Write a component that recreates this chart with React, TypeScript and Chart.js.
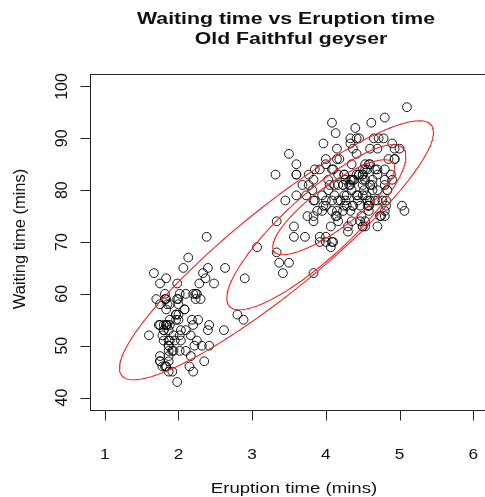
import { useEffect, useRef } from "react";
import { Chart, registerables } from "chart.js";

Chart.register(...registerables);

// Old Faithful eruptions: duration (mins) and waiting time to next eruption (mins)
const eruptions = [
  3.6, 1.8, 3.333, 2.283, 4.533, 2.883, 4.7, 3.6, 1.95, 4.35, 1.833, 3.917, 4.2, 1.75, 4.7, 2.167, 1.75, 4.8, 1.6, 4.25,
  1.8, 1.75, 3.45, 3.067, 4.533, 3.6, 1.967, 4.083, 3.85, 4.433, 4.3, 4.467, 3.367, 4.033, 3.833, 2.017, 1.867, 4.833, 1.833, 4.783,
  4.35, 1.883, 4.567, 1.75, 4.533, 3.317, 3.833, 2.1, 4.633, 2.0, 4.8, 4.716, 1.833, 4.833, 1.733, 4.883, 3.717, 1.667, 4.567, 4.317,
  2.233, 4.5, 1.75, 4.8, 1.817, 4.4, 4.167, 4.7, 2.067, 4.7, 4.033, 1.967, 4.5, 4.0, 1.983, 5.067, 2.017, 4.567, 3.883, 3.6,
  4.133, 4.333, 4.1, 2.633, 4.067, 4.933, 3.95, 4.517, 2.167, 4.0, 2.2, 4.333, 1.867, 4.817, 1.833, 4.3, 4.667, 3.75, 1.867, 4.9,
  2.483, 4.367, 2.1, 4.5, 4.05, 1.867, 4.7, 1.783, 4.85, 3.683, 4.733, 2.3, 4.9, 4.417, 1.7, 4.633, 2.317, 4.6, 1.817, 4.417,
  2.617, 4.067, 4.25, 1.967, 4.6, 3.767, 1.917, 4.5, 2.267, 4.65, 1.867, 4.167, 2.8, 4.333, 1.833, 4.383, 1.883, 4.933, 2.033, 3.733,
  4.233, 2.233, 4.533, 4.817, 4.333, 1.983, 4.633, 2.017, 5.1, 1.8, 5.033, 4.0, 2.4, 4.6, 3.567, 4.0, 4.5, 4.083, 1.8, 3.967,
  2.2, 4.15, 2.0, 3.833, 3.5, 4.583, 2.367, 5.0, 1.933, 4.617, 1.917, 2.083, 4.583, 3.333, 4.167, 4.333, 4.5, 2.417, 4.0, 4.167,
  1.883, 4.583, 4.25, 3.767, 2.033, 4.433, 4.083, 1.833, 4.417, 2.183, 4.8, 1.833, 4.8, 4.1, 3.966, 4.233, 3.5, 4.366, 2.25, 4.667,
  2.1, 4.35, 4.133, 1.867, 4.6, 1.783, 4.367, 3.85, 1.933, 4.5, 2.383, 4.7, 1.867, 3.833, 3.417, 4.233, 2.4, 4.8, 2.0, 4.15,
  1.867, 4.267, 1.75, 4.483, 4.0, 4.117, 4.083, 4.267, 3.917, 4.55, 4.083, 2.417, 4.183, 2.217, 4.45, 1.883, 1.85, 4.283, 3.95, 2.333,
  4.15, 2.35, 4.933, 2.9, 4.583, 3.833, 2.083, 4.367, 2.133, 4.35, 2.2, 4.45, 3.567, 4.5, 4.15, 3.817, 3.917, 4.45, 2.0, 4.283,
  4.767, 4.533, 1.85, 4.25, 1.983, 2.25, 4.75, 4.117, 2.15, 4.417, 1.817, 4.467,
];
const waiting = [
  79, 54, 74, 62, 85, 55, 88, 85, 51, 85, 54, 84, 78, 47, 83, 52, 62, 84, 52, 79,
  51, 47, 78, 69, 74, 83, 55, 76, 78, 79, 73, 77, 66, 80, 74, 52, 48, 80, 59, 90,
  80, 58, 84, 58, 73, 83, 64, 53, 82, 59, 75, 90, 54, 80, 54, 83, 71, 64, 77, 81,
  59, 84, 48, 82, 60, 92, 78, 78, 65, 73, 82, 56, 79, 71, 62, 76, 60, 78, 76, 83,
  75, 82, 70, 65, 73, 88, 76, 80, 48, 86, 60, 90, 50, 78, 63, 72, 84, 75, 51, 82,
  62, 88, 49, 83, 81, 47, 84, 52, 86, 81, 75, 59, 89, 79, 59, 81, 50, 85, 59, 87,
  53, 69, 77, 56, 88, 81, 45, 82, 55, 90, 45, 83, 56, 89, 46, 82, 51, 86, 53, 79,
  81, 60, 82, 77, 76, 59, 80, 49, 96, 53, 77, 77, 65, 81, 71, 70, 81, 93, 53, 89,
  45, 86, 58, 78, 66, 76, 63, 88, 52, 93, 49, 57, 77, 68, 81, 81, 73, 50, 85, 74,
  55, 77, 83, 83, 51, 78, 84, 46, 83, 55, 81, 57, 76, 84, 77, 81, 87, 77, 51, 78,
  60, 82, 91, 53, 78, 46, 77, 84, 49, 83, 71, 80, 49, 75, 64, 76, 53, 94, 55, 76,
  50, 82, 54, 75, 78, 79, 78, 78, 70, 79, 70, 54, 86, 50, 90, 54, 54, 77, 79, 64,
  75, 47, 86, 63, 85, 82, 57, 82, 67, 74, 54, 83, 73, 73, 88, 80, 71, 83, 56, 79,
  78, 84, 58, 83, 43, 60, 75, 81, 46, 90, 46, 74,
];

const xTicks = [1, 2, 3, 4, 5, 6];
const yTicks = [40, 50, 60, 70, 80, 90, 100];
const titleLines = ["Waiting time vs Eruption time", "Old Faithful geyser"];
const xTitle = "Eruption time (mins)";
const yTitle = "Waiting time (mins)";

// Density contours, each outlined as an ellipse: centre and shape matrix
const contourCentreX = [3.33, 3.871, 4.108];
const contourCentreY = [68.4, 72.84, 76.7];
const contourVarX = [4.537, 1.476, 0.686];
const contourCov = [48.4, 16.6, 6.33];
const contourVarY = [623.5, 253.4, 83.9];

const FONT = '"Liberation Sans", Arial, Helvetica, sans-serif';
const TICK_LEN = 10;
const TEXT_STRETCH = 1.24;

function ellipsePoints(i: number, n = 240) {
  const l11 = Math.sqrt(contourVarX[i]);
  const l21 = contourCov[i] / l11;
  const l22 = Math.sqrt(contourVarY[i] - l21 * l21);
  const pts: { x: number; y: number }[] = [];
  for (let k = 0; k <= n; k++) {
    const t = (2 * Math.PI * k) / n;
    const a = Math.cos(t);
    const b = Math.sin(t);
    pts.push({ x: contourCentreX[i] + l11 * a, y: contourCentreY[i] + l21 * a + l22 * b });
  }
  return pts;
}

function drawText(
  ctx: CanvasRenderingContext2D,
  text: string,
  x: number,
  y: number,
  sx: number,
  rotate: boolean
) {
  ctx.save();
  ctx.translate(x, y);
  if (rotate) ctx.rotate(-Math.PI / 2);
  ctx.scale(sx, 1);
  ctx.fillText(text, 0, 0);
  ctx.restore();
}

const basePlotFrame = {
  id: "basePlotFrame",
  afterDraw(chart: any) {
    const { ctx, chartArea: a, scales } = chart;
    const xs = scales.x;
    const ys = scales.y;
    ctx.save();
    ctx.strokeStyle = "#222";
    ctx.lineWidth = 1;
    const l = Math.round(a.left) + 0.5;
    const t = Math.round(a.top) + 0.5;
    const r = Math.round(a.right) + 0.5;
    const b = Math.round(a.bottom) + 0.5;
    ctx.strokeRect(l, t, r - l, b - t);

    ctx.beginPath();
    for (const v of xTicks) {
      const px = Math.round(xs.getPixelForValue(v)) + 0.5;
      ctx.moveTo(px, b);
      ctx.lineTo(px, b + TICK_LEN);
    }
    for (const v of yTicks) {
      const py = Math.round(ys.getPixelForValue(v)) + 0.5;
      ctx.moveTo(l, py);
      ctx.lineTo(l - TICK_LEN, py);
    }
    ctx.stroke();

    ctx.fillStyle = "#111";
    ctx.textAlign = "center";
    ctx.textBaseline = "alphabetic";

    ctx.font = `15px ${FONT}`;
    for (const v of xTicks) {
      drawText(ctx, String(v), xs.getPixelForValue(v), 459, 1.15, false);
    }
    drawText(ctx, xTitle, 294, 492.5, TEXT_STRETCH, false);

    ctx.font = `16px ${FONT}`;
    for (const v of yTicks) {
      drawText(ctx, String(v), 66.5, ys.getPixelForValue(v), 1, true);
    }
    drawText(ctx, yTitle, 25, 239, 1.03, true);

    ctx.font = `bold 17px ${FONT}`;
    drawText(ctx, titleLines[0], 286, 23.5, 1.25, false);
    drawText(ctx, titleLines[1], 291, 43.5, 1.25, false);
    ctx.restore();
  },
};

export default function App() {
  const canvasRef = useRef<HTMLCanvasElement | null>(null);

  useEffect(() => {
    const canvas = canvasRef.current;
    if (!canvas) return;
    const points = eruptions.map((e, i) => ({ x: e, y: waiting[i] }));
    const contourSets = contourCentreX.map((_, i) => ({
      type: "scatter" as const,
      data: ellipsePoints(i),
      showLine: true,
      borderColor: "rgb(240,40,40)",
      borderWidth: 1.1,
      pointRadius: 0,
      tension: 0,
      fill: false,
      order: 0,
    }));
    const chart = new Chart(canvas, {
      type: "scatter",
      data: {
        datasets: [
          ...contourSets,
          {
            data: points,
            pointStyle: "circle",
            pointRadius: 4.4,
            pointBorderWidth: 1,
            borderColor: "rgba(0,0,0,0.9)",
            backgroundColor: "rgba(0,0,0,0)",
            order: 1,
          } as any,
        ],
      },
      options: {
        animation: false,
        responsive: false,
        devicePixelRatio: 1,
        events: [],
        layout: { padding: { left: 90, top: 74, right: 12, bottom: 87 } },
        scales: {
          x: { type: "linear", min: 0.8, max: 6.2, display: false },
          y: { type: "linear", min: 37.6, max: 102.4, display: false },
        },
        plugins: {
          legend: { display: false },
          tooltip: { enabled: false },
          title: { display: false },
        },
      },
      plugins: [basePlotFrame],
    });
    return () => chart.destroy();
  }, []);

  return (
    <div
      style={{
        position: "fixed",
        left: 0,
        top: 0,
        width: 485,
        height: 497,
        overflow: "hidden",
        background: "#fff",
      }}
    >
      <canvas ref={canvasRef} width={500} height={497} style={{ display: "block", width: 500, height: 497 }} />
    </div>
  );
}
